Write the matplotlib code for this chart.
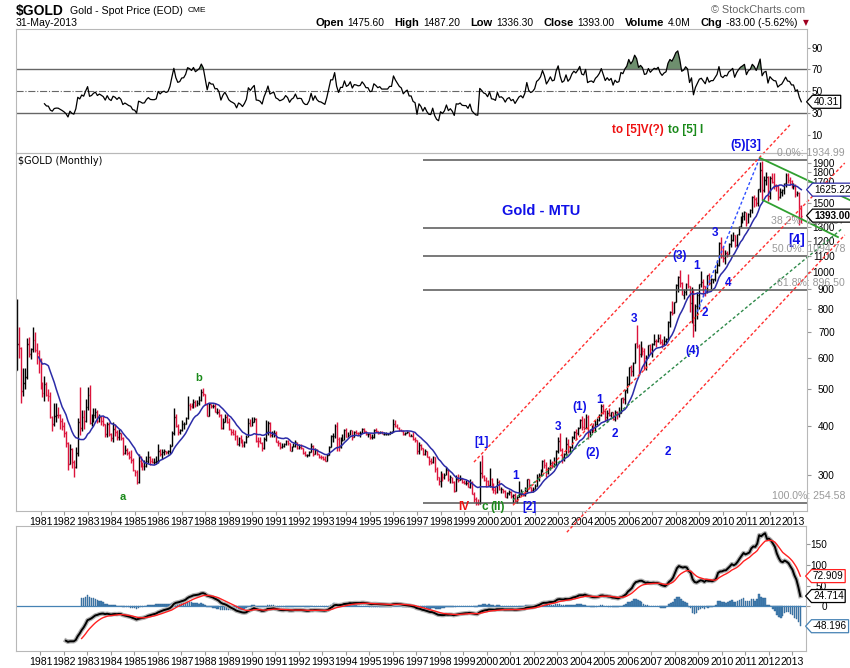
import numpy as np
import matplotlib
matplotlib.use("Agg")
import matplotlib.pyplot as plt
from matplotlib.ticker import NullLocator
from matplotlib.path import Path
from matplotlib.transforms import blended_transform_factory
from matplotlib.offsetbox import TextArea, HPacker, AnnotationBbox

plt.rcParams['font.family'] = ['Liberation Sans', 'DejaVu Sans']

# monthly $GOLD bars, Jan 1980 .. May 2013 (open = previous close)
start_year = 1980
first_open = 559.0
closes = [
    653, 637, 494, 518, 535, 653, 614, 631, 666, 629, 619, 590,
    506, 489, 514, 483, 480, 423, 406, 425, 428, 427, 414, 400,
    384, 362, 320, 350, 325, 315, 342, 411, 397, 423, 414, 448,
    481, 408, 414, 429, 437, 413, 422, 414, 405, 382, 405, 382,
    373, 394, 388, 375, 384, 373, 342, 348, 341, 333, 329, 309,
    306, 288, 326, 322, 316, 317, 327, 333, 326, 325, 325, 327,
    346, 339, 344, 346, 343, 345, 357, 385, 423, 401, 388, 391,
    405, 406, 420, 453, 451, 447, 462, 453, 460, 468, 492, 484,
    458, 426, 457, 451, 451, 436, 437, 427, 397, 412, 422, 410,
    394, 387, 383, 378, 361, 373, 368, 359, 366, 376, 409, 401,
    410, 417, 368, 367, 363, 352, 372, 387, 408, 380, 384, 386,
    366, 362, 355, 357, 360, 368, 362, 347, 354, 357, 366, 353,
    354, 353, 342, 337, 337, 343, 357, 340, 349, 339, 334, 333,
    330, 327, 338, 355, 378, 378, 401, 372, 355, 370, 370, 391,
    377, 381, 392, 376, 387, 386, 384, 385, 395, 390, 383, 383,
    375, 376, 392, 389, 385, 387, 383, 383, 383, 383, 387, 387,
    405, 400, 396, 392, 390, 382, 385, 387, 379, 379, 371, 369,
    345, 358, 352, 340, 345, 334, 326, 325, 333, 311, 296, 290,
    303, 297, 301, 310, 293, 296, 288, 273, 293, 292, 294, 288,
    287, 287, 280, 286, 268, 261, 255, 254, 303, 298, 292, 290,
    283, 293, 276, 275, 272, 288, 276, 277, 273, 264, 270, 272,
    265, 267, 258, 263, 268, 270, 266, 273, 293, 279, 275, 277,
    282, 297, 301, 308, 326, 318, 304, 312, 323, 316, 318, 347,
    368, 348, 334, 339, 361, 346, 355, 375, 388, 384, 397, 416,
    399, 397, 423, 388, 393, 395, 391, 407, 415, 428, 452, 438,
    422, 434, 427, 435, 417, 436, 430, 433, 473, 470, 495, 513,
    568, 556, 582, 654, 643, 613, 632, 624, 599, 604, 646, 632,
    650, 665, 662, 677, 659, 650, 665, 673, 743, 789, 783, 834,
    923, 971, 933, 871, 885, 930, 918, 833, 884, 730, 814, 869,
    928, 942, 916, 891, 980, 934, 955, 955, 996, 1040, 1182, 1096,
    1081, 1118, 1113, 1179, 1207, 1244, 1169, 1246, 1307, 1357, 1386, 1421,
    1332, 1409, 1439, 1556, 1536, 1500, 1628, 1829, 1620, 1722, 1746, 1564,
    1737, 1697, 1669, 1664, 1560, 1599, 1622, 1692, 1776, 1720, 1714, 1664,
    1664, 1579, 1595, 1476, 1393,
]
highs = [
    850, 720, 640, 565, 565, 675, 679, 638, 720, 700, 655, 630,
    600, 520, 540, 520, 500, 490, 425, 460, 460, 450, 430, 420,
    410, 390, 365, 360, 352, 328, 355, 420, 505, 440, 440, 470,
    505, 511, 430, 445, 445, 440, 430, 425, 425, 405, 410, 410,
    385, 410, 405, 392, 395, 385, 375, 358, 352, 345, 348, 332,
    310, 310, 340, 335, 325, 328, 335, 345, 335, 332, 332, 335,
    360, 350, 350, 350, 347, 348, 360, 390, 445, 430, 405, 395,
    415, 412, 422, 480, 460, 460, 470, 467, 468, 480, 500, 502,
    485, 460, 460, 458, 457, 460, 445, 443, 430, 420, 430, 430,
    420, 395, 395, 392, 380, 375, 380, 372, 368, 380, 420, 418,
    422, 423, 420, 375, 375, 365, 375, 415, 414, 410, 390, 392,
    390, 370, 366, 362, 362, 370, 370, 362, 357, 362, 370, 366,
    360, 360, 353, 345, 340, 345, 362, 358, 352, 350, 340, 338,
    335, 335, 340, 357, 380, 385, 407, 410, 375, 375, 382, 395,
    397, 388, 392, 392, 389, 392, 388, 389, 396, 396, 390, 386,
    385, 382, 393, 396, 390, 390, 390, 387, 387, 385, 389, 390,
    417, 415, 406, 398, 394, 392, 388, 390, 387, 383, 388, 376,
    370, 366, 360, 353, 350, 345, 336, 331, 336, 334, 314, 297,
    307, 303, 303, 315, 311, 300, 296, 289, 300, 302, 300, 295,
    292, 292, 291, 293, 290, 272, 264, 260, 326, 338, 300, 296,
    292, 313, 295, 286, 280, 295, 292, 280, 277, 274, 272, 275,
    273, 268, 270, 265, 290, 276, 270, 279, 294, 293, 280, 280,
    285, 302, 304, 311, 328, 330, 325, 315, 330, 326, 334, 349,
    375, 385, 352, 341, 375, 372, 357, 378, 390, 395, 398, 417,
    426, 420, 430, 427, 394, 404, 408, 416, 420, 430, 456, 456,
    441, 440, 446, 436, 436, 441, 438, 448, 474, 476, 497, 540,
    570, 575, 586, 656, 730, 650, 664, 640, 637, 610, 648, 651,
    655, 690, 670, 692, 690, 672, 683, 676, 745, 793, 841, 838,
    931, 975, 1011, 939, 905, 935, 988, 918, 912, 904, 826, 885,
    932, 1005, 958, 916, 982, 990, 962, 960, 1018, 1070, 1195, 1227,
    1162, 1140, 1128, 1183, 1249, 1265, 1245, 1250, 1310, 1388, 1424, 1431,
    1424, 1412, 1448, 1564, 1577, 1553, 1632, 1912, 1920, 1764, 1803, 1764,
    1764, 1790, 1792, 1677, 1670, 1640, 1628, 1692, 1790, 1798, 1755, 1723,
    1694, 1684, 1616, 1598, 1487.2,
]
lows = [
    559, 600, 460, 480, 500, 530, 605, 595, 620, 620, 580, 550,
    500, 475, 465, 480, 465, 420, 390, 400, 410, 420, 395, 392,
    375, 355, 310, 320, 312, 297, 312, 336, 380, 390, 395, 410,
    440, 405, 400, 410, 420, 408, 410, 404, 400, 375, 375, 378,
    367, 365, 378, 370, 370, 370, 338, 340, 338, 330, 323, 307,
    298, 285, 286, 315, 310, 310, 315, 322, 318, 322, 320, 320,
    323, 335, 330, 337, 339, 340, 340, 357, 380, 398, 380, 383,
    390, 395, 405, 419, 440, 445, 445, 450, 451, 455, 465, 480,
    455, 425, 425, 445, 446, 435, 430, 424, 395, 395, 410, 408,
    392, 380, 380, 370, 358, 357, 362, 354, 355, 362, 375, 400,
    400, 410, 365, 355, 362, 345, 350, 368, 380, 375, 375, 375,
    364, 356, 350, 353, 355, 358, 358, 346, 345, 354, 355, 350,
    350, 350, 340, 335, 334, 336, 343, 335, 339, 337, 331, 330,
    328, 326, 326, 337, 355, 365, 373, 347, 345, 352, 368, 369,
    375, 375, 380, 370, 376, 382, 380, 375, 384, 386, 380, 376,
    372, 372, 373, 388, 383, 384, 382, 381, 381, 381, 382, 385,
    387, 399, 396, 390, 389, 380, 381, 385, 378, 378, 369, 365,
    340, 340, 348, 338, 338, 334, 318, 320, 322, 306, 292, 283,
    280, 290, 294, 300, 290, 287, 286, 271, 273, 288, 291, 286,
    285, 283, 280, 278, 268, 256, 252, 252, 253, 295, 289, 280,
    281, 280, 274, 270, 268, 270, 275, 270, 270, 264, 262, 266,
    262, 255, 256, 255, 263, 265, 265, 265, 271, 277, 272, 271,
    277, 282, 290, 298, 306, 313, 297, 302, 310, 312, 315, 318,
    342, 346, 322, 326, 339, 342, 342, 352, 372, 371, 380, 396,
    392, 392, 396, 372, 375, 385, 387, 390, 403, 413, 425, 431,
    414, 410, 425, 422, 415, 414, 418, 424, 433, 460, 456, 488,
    512, 538, 538, 581, 636, 543, 603, 612, 560, 560, 600, 613,
    604, 646, 640, 660, 652, 637, 648, 655, 669, 721, 775, 783,
    834, 885, 915, 870, 850, 869, 910, 786, 740, 681, 705, 754,
    801, 912, 866, 866, 883, 922, 905, 933, 945, 990, 1035, 1087,
    1060, 1045, 1088, 1110, 1160, 1197, 1155, 1157, 1241, 1300, 1330, 1359,
    1309, 1330, 1380, 1418, 1462, 1478, 1478, 1604, 1532, 1598, 1667, 1522,
    1537, 1690, 1627, 1614, 1527, 1546, 1565, 1587, 1654, 1694, 1673, 1636,
    1626, 1555, 1562, 1321, 1336.3,
]

year_ticks = list(range(1981, 2014))
price_ticks = [300, 400, 500, 600, 700, 800, 900, 1000, 1100, 1200, 1300, 1500, 1700, 1800, 1900]
rsi_ticks = [10, 30, 50, 70, 90]
macd_ticks = [0, 50, 100, 150]

# fibonacci retracement tool
fib_high = 1934.99
fib_low = 254.58
fib_ratios = [0.0, 0.382, 0.5, 0.618, 1.0]
fib_start = 1997.25

# hand drawn trend lines: (decimal year, price)
red_lines = [[(1999.42, 324), (2012.85, 2382)],
             [(2001.08, 251), (2015.18, 1902)],
             [(2003.37, 214), (2015.18, 1242)]]
green_dash = [(2001.08, 259), (2015.10, 1295)]
blue_dash = [(2008.90, 787), (2011.58, 1971)]
green_lines = [[(2011.58, 1959), (2015.40, 1527)],
               [(2011.70, 1527), (2014.89, 1227)]]

RED, GREEN, BLUE = '#ee1111', '#1a8a1a', '#1010e8'
wave_text = ['to [5]V(?)', 'to [5] I', '(5)[3]', '[4]', '(3)', '1', '3', '4', '2', '3',
             '(4)', '1', '2', '(2)', '2', '(1)', '3', '1', '[1]', 'IV', 'c', '(II)', '[2]',
             'b', 'a', 'Gold - MTU']
wave_x = [2006.37, 2008.43, 2010.98, 2013.15, 2008.17, 2008.90, 2009.66, 2010.22, 2009.24, 2006.22,
          2008.73, 2004.78, 2005.41, 2004.48, 2007.67, 2003.92, 2002.99, 2001.21, 1999.76, 1999.0,
          1999.89, 2000.44, 2001.80, 1987.73, 1984.50, 2002.27]
wave_y = [2308, 2308, 2116, 1206, 1097, 1034, 1257, 935, 783, 755,
          625, 468, 382, 342, 343, 449, 398, 298, 365, 248,
          248, 248, 248, 533, 263, 1431]
wave_color = [RED, GREEN, BLUE, BLUE, BLUE, BLUE, BLUE, BLUE, BLUE, BLUE,
              BLUE, BLUE, BLUE, BLUE, BLUE, BLUE, BLUE, BLUE, BLUE, RED,
              GREEN, GREEN, BLUE, GREEN, GREEN, BLUE]
wave_size = [8.5, 8.5, 9, 10, 8.5, 8.5, 8.5, 8.5, 8.5, 8.5,
             8.5, 8.5, 8.5, 8.5, 8.5, 8.5, 8.5, 8.5, 8.5, 8.5,
             8.5, 8.5, 8.5, 8, 8, 10.5]

last_close_tag = '1393.00'
ma_tag = '1625.22'
rsi_tag = '40.31'
signal_tag, macd_tag, hist_tag = '72.909', '24.714', '-48.196'

# ---------------------------------------------------------------
closes = np.array(closes, float)
opens = np.concatenate([[first_open], closes[:-1]])
highs = np.maximum(np.array(highs, float), np.maximum(opens, closes))
lows = np.minimum(np.array(lows, float), np.minimum(opens, closes))
n = len(closes)
x = start_year + np.arange(n) / 12.0
up = closes >= opens

ma = np.full(n, np.nan)
for i in range(11, n):
    ma[i] = closes[i - 11:i + 1].mean()


def rsi_calc(c, period=14):
    d = np.diff(c)
    gain = np.where(d > 0, d, 0.0)
    loss = np.where(d < 0, -d, 0.0)
    out = np.full(len(c), np.nan)
    ag = gain[:period].mean()
    al = loss[:period].mean()
    out[period] = 100 - 100 / (1 + ag / al)
    for i in range(period + 1, len(c)):
        ag = (ag * (period - 1) + gain[i - 1]) / period
        al = (al * (period - 1) + loss[i - 1]) / period
        out[i] = 100 - 100 / (1 + ag / al) if al > 0 else 100
    return out


def ema(v, span, start=0):
    out = np.full(len(v), np.nan)
    k = 2.0 / (span + 1)
    out[start + span - 1] = np.mean(v[start:start + span])
    for i in range(start + span, len(v)):
        out[i] = v[i] * k + out[i - 1] * (1 - k)
    return out


rsi = rsi_calc(closes)
macd = ema(closes, 12) - ema(closes, 26)
signal = ema(np.nan_to_num(macd), 9, start=25)
hist = macd - signal

W, H = 850, 668


def box(l, t, r, b):
    return [l / W, 1 - b / H, (r - l) / W, (b - t) / H]


fig = plt.figure(figsize=(8.5, 6.68), dpi=100)
ax_rsi = fig.add_axes(box(16, 29, 807, 153))
ax = fig.add_axes(box(16, 153, 807, 511))
ax_macd = fig.add_axes(box(16, 526, 806, 651))
ax.set_zorder(5)
ax.patch.set_alpha(0)

xlim = (start_year - 0.51 / 12, start_year + 402.9 / 12)
for a in (ax_rsi, ax, ax_macd):
    a.set_xlim(*xlim)
    for s in a.spines.values():
        s.set_color('#b8b8b8')
    a.yaxis.tick_right()
    a.tick_params(axis='y', direction='out', length=3, color='#999999', labelsize=7.2)
    a.set_xticks(year_ticks)
    a.set_xticklabels([str(y) for y in year_ticks])
    a.tick_params(axis='x', direction='out', length=3, color='#999999', labelsize=7.6, pad=1)
ax_rsi.tick_params(axis='x', length=0, labelbottom=False)


def tag_shape(x0, y0, width, height, mutation_scale):
    # box with a pointed left side, like the last-value tags
    pad = 0.15 * mutation_scale
    x0, y0 = x0 - pad, y0 - pad
    w, h = width + 2 * pad, height + 2 * pad
    tip = 0.45 * h
    verts = [(x0 - tip, y0 + h / 2), (x0, y0), (x0 + w, y0), (x0 + w, y0 + h),
             (x0, y0 + h), (x0 - tip, y0 + h / 2)]
    return Path(verts, closed=True)


def tag(axis, yval, text, edge, bold=False):
    tr = blended_transform_factory(axis.transAxes, axis.transData)
    axis.annotate(text, xy=(1.0, yval), xycoords=tr, xytext=(5, 0), textcoords='offset points',
                  ha='left', va='center', fontsize=7.2, fontweight='bold' if bold else 'normal',
                  bbox=dict(boxstyle=tag_shape, fc='white', ec=edge, lw=0.9),
                  annotation_clip=False, zorder=20)


# ---- RSI panel
ax_rsi.set_ylim(-6.5, 107.1)
ax_rsi.axhline(70, color='#666666', lw=1)
ax_rsi.axhline(30, color='#666666', lw=1)
ax_rsi.axhline(50, color='#666666', lw=0.8, ls='-.')
ax_rsi.fill_between(x, 70, rsi, where=rsi >= 70, interpolate=True, color='#6e8f6e', lw=0)
ax_rsi.plot(x, rsi, color='black', lw=0.9)
ax_rsi.set_yticks(rsi_ticks)
ax_rsi.tick_params(axis='y', length=2, pad=1)
tag(ax_rsi, rsi[-1], rsi_tag, 'black')

# ---- price panel
ax.set_yscale('log')
ax.set_ylim(242.6, 2018)
ax.set_yticks(price_ticks)
ax.set_yticklabels([str(t) for t in price_ticks])
ax.yaxis.set_minor_locator(NullLocator())
ax.tick_params(axis='y', pad=17)
for lbl in ax.get_yticklabels():
    lbl.set_horizontalalignment('right')

cols = np.where(up, 'black', '#dc143c')
tw = 0.4 / 12
ax.vlines(x, lows, highs, colors=cols, lw=1)
ax.hlines(opens, x - tw, x, colors=cols, lw=1)
ax.hlines(closes, x, x + tw, colors=cols, lw=1)
ax.plot(x, ma, color='#2c2ca8', lw=1.1)

fib_levels = [fib_high - r * (fib_high - fib_low) for r in fib_ratios]
ax.hlines(fib_levels, fib_start, xlim[1], colors='#555555', lw=1.1)
trf = blended_transform_factory(ax.transAxes, ax.transData)
for r, lev in zip(fib_ratios, fib_levels):
    ax.annotate(f'{r * 100:.1f}%: {lev:.2f}', xy=(1.048, lev), xycoords=trf,
                xytext=(0, 5), textcoords='offset points', ha='right', va='center',
                color='#999999', fontsize=7.6, annotation_clip=False, zorder=15)

dash = (0, (2.2, 1.6))
for (p0, p1) in red_lines:
    ax.plot([p0[0], p1[0]], [p0[1], p1[1]], color='#ff3030', lw=1, ls=dash, clip_on=False)
ax.plot([green_dash[0][0], green_dash[1][0]], [green_dash[0][1], green_dash[1][1]],
        color='#2f8a4a', lw=1, ls=dash, clip_on=False)
ax.plot([blue_dash[0][0], blue_dash[1][0]], [blue_dash[0][1], blue_dash[1][1]],
        color='#3050ff', lw=1, ls=dash, clip_on=False)
for (p0, p1) in green_lines:
    ax.plot([p0[0], p1[0]], [p0[1], p1[1]], color='#30a030', lw=1.3, clip_on=False)

for t, wx, wy, c, s in zip(wave_text, wave_x, wave_y, wave_color, wave_size):
    ax.text(wx, wy, t, color=c, fontsize=s, fontweight='bold', ha='center', va='center',
            clip_on=False, zorder=12)

ax.text(0.0025, 0.9777, '$GOLD (Monthly)', transform=ax.transAxes, fontsize=7,
        family='DejaVu Sans', va='center', ha='left')
tag(ax, ma[-1], ma_tag, '#2c2ca8')
tag(ax, closes[-1], last_close_tag, 'black', bold=True)

# ---- MACD panel
ax_macd.set_ylim(-108.2, 194.3)
ok = ~np.isnan(hist)
ax_macd.axhline(0, color='#4682b4', lw=0.9)
ax_macd.bar(x[ok], hist[ok], width=0.8 / 12, color='#4682b4', edgecolor='#2b5f8f', lw=0.3)
ax_macd.plot(x, macd, color='#b0b0b0', lw=3.2)
ax_macd.plot(x, macd, color='black', lw=1.4)
ax_macd.plot(x, signal, color='#ff2020', lw=1)
ax_macd.set_yticks(macd_ticks)
ax_macd.tick_params(axis='y', pad=12)
for lbl in ax_macd.get_yticklabels():
    lbl.set_horizontalalignment('right')
tag(ax_macd, signal[-1], signal_tag, '#ff2020')
tag(ax_macd, macd[-1], macd_tag, 'black')
tag(ax_macd, hist[-1], hist_tag, '#4682b4')

# ---- header
fig.text(16 / W, 1 - 11 / H, '$GOLD', fontsize=10, fontweight='bold', va='center')
fig.text(70 / W, 1 - 11 / H, 'Gold - Spot Price (EOD)', fontsize=7.6, va='center')
fig.text(188 / W, 1 - 11 / H, 'CME', fontsize=6, va='center')
fig.text(16 / W, 1 - 23 / H, '31-May-2013', fontsize=7.6, va='center')
fig.text(805 / W, 1 - 10 / H, '\u00a9 StockCharts.com', fontsize=7.8, color='#666666',
         ha='right', va='center')

head = [('Open', '1475.60'), ('High', '1487.20'), ('Low', '1336.30'), ('Close', '1393.00'),
        ('Volume', '4.0M'), ('Chg', '-83.00 (-5.62%)')]
groups = []
for k, v in head:
    groups.append(HPacker(children=[TextArea(k, textprops=dict(fontsize=8, fontweight='bold')),
                                    TextArea(v, textprops=dict(fontsize=7.4))],
                          sep=3, pad=0, align='baseline'))
hp = HPacker(children=groups, sep=7, pad=0, align='baseline')
ab = AnnotationBbox(hp, (798 / W, 1 - 23 / H), xycoords='figure fraction',
                    box_alignment=(1, 0.5), frameon=False, pad=0)
fig.add_artist(ab)
fig.text(806 / W, 1 - 23 / H, '\u25bc', fontsize=5.5, color='#a00020', ha='center', va='center',
         family='DejaVu Sans')

fig.savefig('out.png', dpi=100)
